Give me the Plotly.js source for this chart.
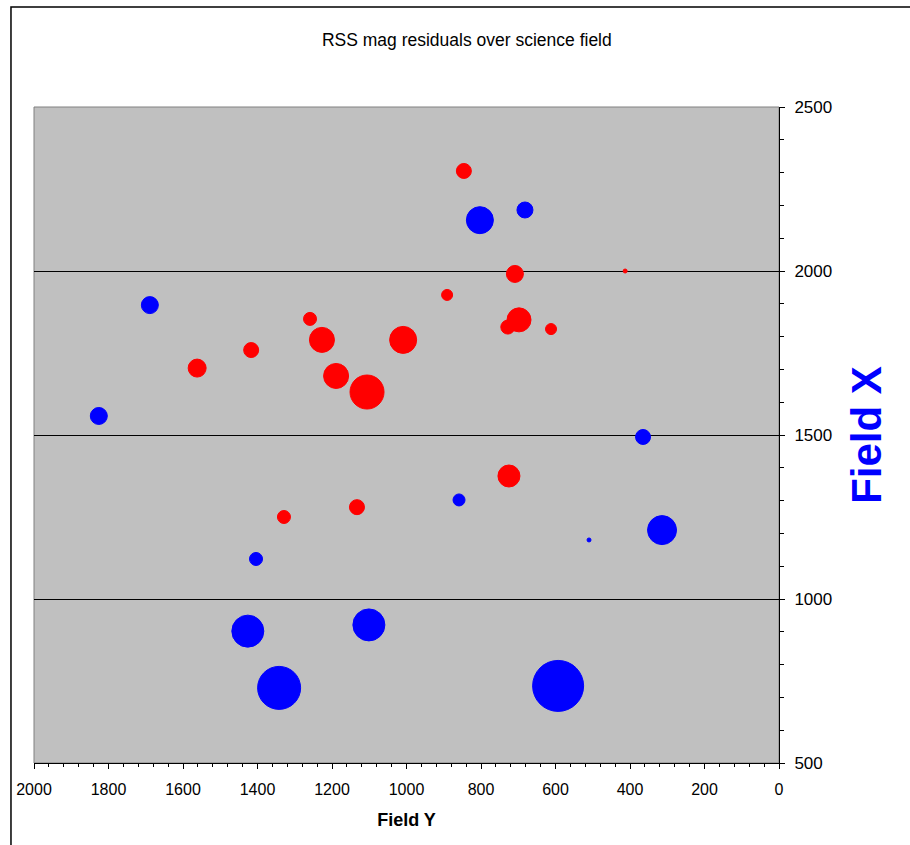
<!DOCTYPE html>
<html>
<head>
<meta charset="utf-8">
<script src="https://cdn.plot.ly/plotly-3.0.1.min.js"></script>
<style>html,body{margin:0;padding:0;background:#fff;}#chart{width:910px;height:845px;}</style>
</head>
<body>
<div id="chart"></div>
<script>
// Red series (positive residuals)
const redFieldY = [846, 709, 413, 891, 1259, 1227, 1009, 698, 728, 612, 1417, 1562, 1189, 1106, 725, 1133, 1329];
const redFieldX = [2305, 1991, 2000, 1927, 1854, 1790, 1790, 1851, 1829, 1823, 1759, 1704, 1680, 1631, 1375, 1280, 1250];
const redSize   = [15, 17, 4, 11, 13, 25, 27, 24, 14, 11, 15, 18, 25, 34, 22, 15, 13];

// Blue series (negative residuals)
const blueFieldY = [803, 682, 1689, 1826, 365, 859, 510, 314, 1404, 1426, 1101, 1342, 593];
const blueFieldX = [2155, 2186, 1896, 1558, 1494, 1302, 1180, 1210, 1122, 902, 921, 729, 735];
const blueSize   = [27, 16, 17, 17, 15, 12, 4, 29, 13, 32, 32, 43, 51];

const titleText = "RSS mag residuals over science field";
const xTitle = "Field Y";
const yTitle = "Field X";

const font = "Liberation Sans, Arial, sans-serif";

const traces = [
  {
    type: "scatter", mode: "markers", name: "red",
    x: redFieldY, y: redFieldX,
    marker: {size: redSize, sizemode: "diameter", sizeref: 1, color: "#FF0000", opacity: 1, line: {width: 1, color: "#FF0000"}},
    hoverinfo: "x+y"
  },
  {
    type: "scatter", mode: "markers", name: "blue",
    x: blueFieldY, y: blueFieldX,
    marker: {size: blueSize, sizemode: "diameter", sizeref: 1, color: "#0000FF", opacity: 1, line: {width: 1, color: "#0000FF"}},
    hoverinfo: "x+y"
  }
];

const layout = {
  width: 910, height: 845,
  margin: {l: 34, r: 131, t: 107, b: 82, pad: 0},
  paper_bgcolor: "#FFFFFF",
  plot_bgcolor: "#C0C0C0",
  showlegend: false,
  font: {family: font, color: "#000"},
  title: {
    text: titleText,
    font: {family: font, size: 17.5, color: "#000"},
    xref: "container", x: 0.513, xanchor: "center",
    yref: "container", y: 1 - 40/845, yanchor: "middle"
  },
  xaxis: {
    range: [2000, 0],
    dtick: 200, tick0: 0,
    ticks: "outside", ticklen: 5, tickwidth: 1, tickcolor: "#000",
    minor: {dtick: 40, ticks: "outside", ticklen: 3, tickcolor: "#000", showgrid: false},
    showgrid: false, zeroline: false,
    showline: true, linecolor: "#000", linewidth: 1,
    tickfont: {family: font, size: 16, color: "#000"},
    ticklabelstandoff: 7,
    title: {text: "<b>" + xTitle + "</b>", font: {family: font, size: 18, color: "#000"}, standoff: 16},
    automargin: false
  },
  yaxis: {
    side: "right",
    range: [500, 2500],
    dtick: 500, tick0: 0,
    ticks: "outside", ticklen: 5, tickwidth: 1, tickcolor: "#000",
    minor: {dtick: 100, ticks: "outside", ticklen: 4, tickcolor: "#000", showgrid: false},
    showgrid: true, gridcolor: "#000", gridwidth: 1,
    zeroline: false,
    showline: true, linecolor: "#000", linewidth: 1,
    tickfont: {family: font, size: 17, color: "#000"},
    ticklabelstandoff: 6,
    title: {text: "<b>" + yTitle + "</b>", font: {family: font, size: 42, color: "#0000FF"}, standoff: 20},
    automargin: false
  },
  shapes: [
    {type: "rect", xref: "paper", yref: "paper", x0: 0, x1: 1, y0: 0, y1: 1,
     line: {color: "#808080", width: 1}, fillcolor: "rgba(0,0,0,0)", layer: "below"},
    {type: "rect", xref: "paper", yref: "paper", x0: -0.0309, x1: 2, y0: -1, y1: 1.1524,
     line: {color: "#000", width: 1.5}, fillcolor: "rgba(0,0,0,0)", layer: "above"}
  ]
};

Plotly.newPlot("chart", traces, layout, {displayModeBar: false, staticPlot: true});
</script>
</body>
</html>
